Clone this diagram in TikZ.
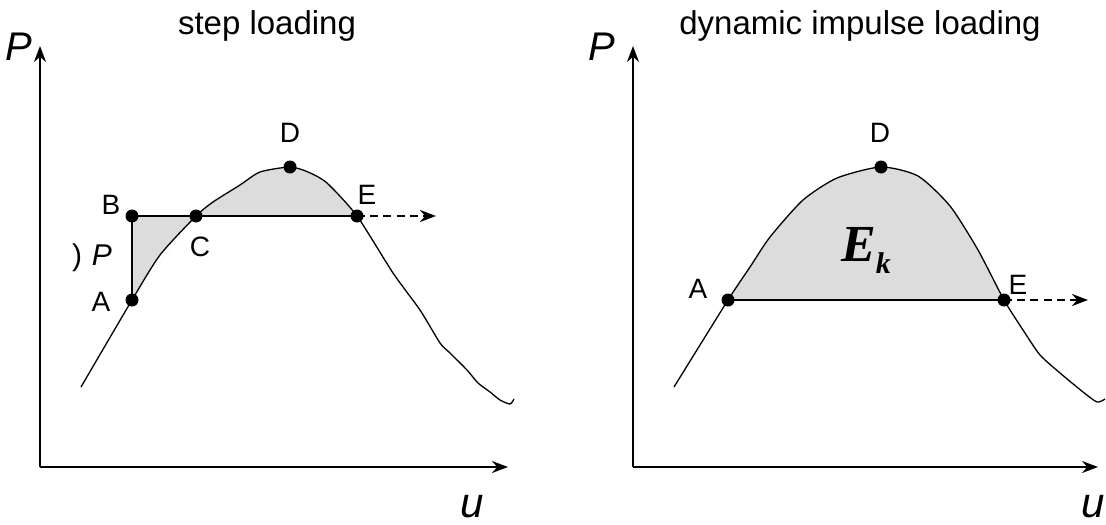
\documentclass[tikz,border=0pt]{standalone}
\usepackage{fontspec}
\setmainfont{Liberation Sans}
\newfontfamily\serifbold{Liberation Serif}
\usetikzlibrary{positioning,arrows.meta}
\definecolor{areagray}{RGB}{220,220,220}

\begin{document}
\begin{tikzpicture}[x=0.5pt,y=-0.5pt,line width=0.65pt,
  axis/.style={line width=0.75pt,-{Stealth[length=8pt,width=6pt]}},
  push/.style={line width=1.4pt,dash pattern=on 4pt off 2.6pt,-{Stealth[length=8pt,width=6pt]}},
  dot/.style={circle,fill=black,draw=none,inner sep=0pt,minimum size=6.5pt},
  ulabel/.style={font=\fontsize{21}{23}\selectfont,inner sep=0pt,anchor=base}]
\tikzstyle{every node}=[font=\fontsize{14}{16}\selectfont]
\useasboundingbox (0,0) rectangle (1106,524);

% step loading
\coordinate (o1) at (40,467);
\coordinate (s1) at (81,387);
\coordinate (a1) at (132,300);
\coordinate (b1) at (132,216);
\coordinate (c1) at (196,216);
\coordinate (d1) at (290,167);
\coordinate (e1) at (357,216);
\coordinate (t1) at (436,216);
\fill[areagray] (a1) -- (b1) -- (c1) plot[smooth] coordinates {(c1) (160,255) (a1)} -- cycle;
\fill[areagray] plot[smooth] coordinates {(c1) (213,202) (240,185) (260,172) (d1) (308,172) (327,183) (e1)} -- cycle;
\draw[axis] (o1) -- (40,46);
\draw[axis] (o1) -- (508,467);
\draw plot[smooth,tension=0.4] coordinates {(s1) (a1) (160,255) (c1) (213,202) (240,185) (260,172) (d1) (308,172) (327,183) (e1)
  (393,273) (420,310) (440,343) (450,353) (467,370) (478,383) (490,392) (500,400) (510,404) (514,399)};
\draw (a1) -- (b1) -- (c1) -- (e1);
\draw[push] (e1) -- (t1);
\foreach \p in {a1,b1,c1,d1,e1} \node[dot] at (\p) {};
\node (lA1) at (101,302) {A};
\node (lB1) at (111,205) {B};
\node (lC1) at (200,247) {C};
\node (lD1) at (290,133) {D};
\node (lE1) at (367,195) {E};
\node[font=\fontsize{15}{17}\selectfont] (dP1) at (92,258) {)\hspace{5pt}\textit{P}};
\node[font=\fontsize{20}{22}\selectfont] (P1) at (19,47) {\textit{P}};
\node[ulabel] (u1) at (472,517) {\textit{u}};
\node[font=\fontsize{16.5}{18}\selectfont] (title1) at (267,26) {step loading};

% dynamic impulse loading
\coordinate (o2) at (633,467);
\coordinate (s2) at (674,387);
\coordinate (a2) at (728,300);
\coordinate (d2) at (881,167);
\coordinate (e2) at (1004,300);
\coordinate (t2) at (1088,300);
\fill[areagray] plot[smooth] coordinates {(a2) (750,267) (770,237) (803,200) (837,178) (d2) (918,176) (950,206) (978,250) (e2)} -- cycle;
\draw[axis] (o2) -- (633,46);
\draw[axis] (o2) -- (1098,467);
\draw plot[smooth,tension=0.4] coordinates {(s2) (a2) (750,267) (770,237) (803,200) (837,178) (d2) (918,176) (950,206) (978,250) (e2)
  (1023,330) (1040,355) (1060,373) (1083,392) (1097,402) (1105,399)};
\draw (a2) -- (e2);
\draw[push] (e2) -- (t2);
\foreach \p in {a2,d2,e2} \node[dot] at (\p) {};
\node (lA2) at (698,289) {A};
\node (lD2) at (880,133) {D};
\node (lE2) at (1018,285) {E};
\node[font=\fontsize{26}{28}\selectfont\serifbold\bfseries\itshape] (Ek) at (866,250) {E\raisebox{-6pt}{\fontsize{15}{15}\selectfont k}};
\node[font=\fontsize{20}{22}\selectfont] (P2) at (602,47) {\textit{P}};
\node[ulabel] (u2) at (1093,517) {\textit{u}};
\node[font=\fontsize{16.5}{18}\selectfont] (title2) at (860,26) {dynamic impulse loading};
\end{tikzpicture}
\end{document}
